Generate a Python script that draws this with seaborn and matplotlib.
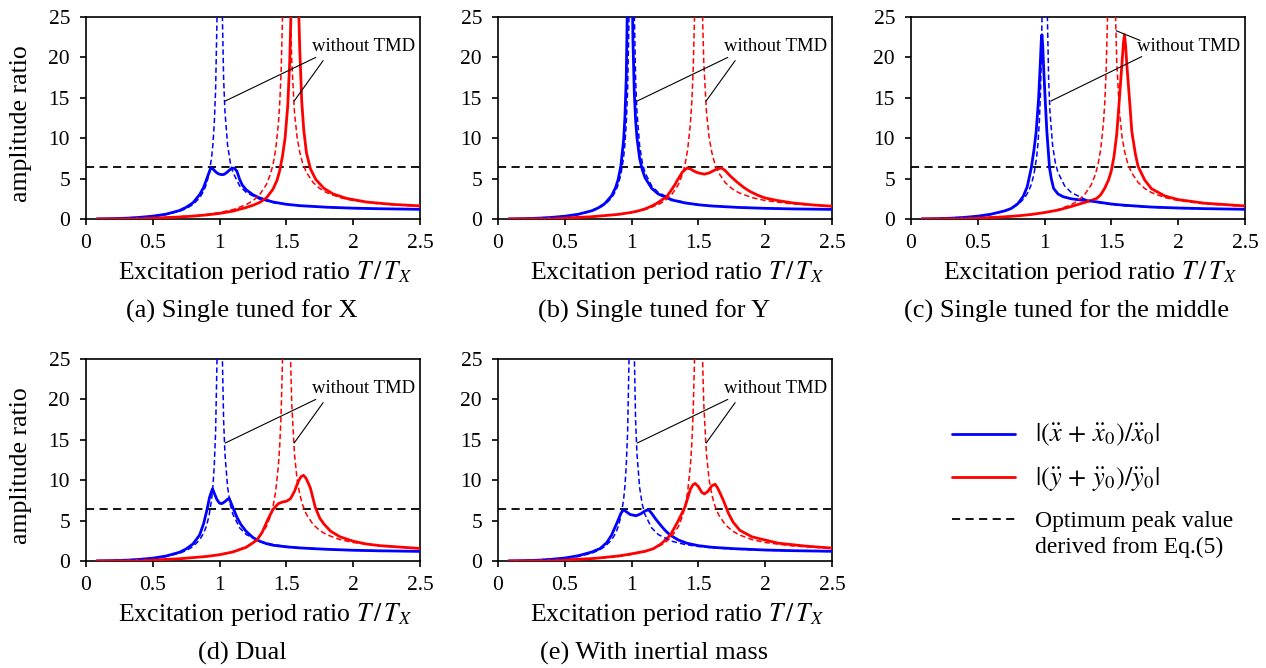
import matplotlib
matplotlib.use("Agg")
import matplotlib.pyplot as plt
from matplotlib.lines import Line2D
from matplotlib.ticker import FormatStrFormatter
import seaborn as sns

# ---------------------------------------------------------------------------
# Amplitude ratios versus excitation period ratio T/T_X
# ---------------------------------------------------------------------------

# Structure without TMD (shared by every panel)
free_x_T = [0.08, 0.2, 0.3, 0.4, 0.5, 0.6, 0.7, 0.75, 0.8, 0.85, 0.88, 0.9, 0.92, 0.94, 0.95,
            0.96, 0.97, 0.98, 0.99, 1.0, 1.01, 1.02, 1.03, 1.04, 1.06, 1.08, 1.1, 1.15, 1.2, 1.3,
            1.4, 1.5, 1.6, 1.8, 2.0, 2.2, 2.5]
free_x_amp = [0.006, 0.042, 0.099, 0.19, 0.33, 0.56, 0.96, 1.29, 1.78, 2.6, 3.43, 4.26, 5.51, 7.59, 9.26,
              11.8, 15.9, 24.3, 40, 50, 40, 25.8, 17.4, 13.3, 9.1, 7.0, 5.76, 4.1, 3.27, 2.45,
              2.04, 1.8, 1.64, 1.45, 1.33, 1.26, 1.19]

free_y_T = [0.08, 0.2, 0.3, 0.4, 0.5, 0.6, 0.7, 0.8, 0.9, 1.0, 1.1, 1.2, 1.25, 1.3, 1.35,
            1.38, 1.4, 1.42, 1.44, 1.45, 1.46, 1.47, 1.48, 1.5, 1.52, 1.53, 1.54, 1.56, 1.58, 1.6,
            1.62, 1.65, 1.7, 1.75, 1.8, 1.9, 2.0, 2.2, 2.5]
free_y_amp = [0.003, 0.018, 0.042, 0.077, 0.125, 0.19, 0.28, 0.4, 0.56, 0.8, 1.16, 1.78, 2.27, 3.02, 4.26,
              5.51, 6.76, 8.63, 11.8, 14.3, 18.0, 24.3, 36.8, 50, 38.3, 25.8, 19.5, 13.3, 10.1, 8.26,
              7.0, 5.76, 4.52, 3.77, 3.27, 2.65, 2.29, 1.87, 1.56]

# (a) Single tuned for X
a_x_T = [0.08, 0.2, 0.3, 0.4, 0.5, 0.6, 0.7, 0.75, 0.8, 0.85, 0.88, 0.9, 0.92, 0.935, 0.95,
         0.97, 0.99, 1.01, 1.03, 1.05, 1.07, 1.09, 1.11, 1.13, 1.15, 1.17, 1.2, 1.25, 1.3, 1.4,
         1.5, 1.6, 1.8, 2.0, 2.2, 2.5]
a_x_amp = [0.007, 0.045, 0.1, 0.2, 0.35, 0.6, 1.05, 1.45, 2.0, 3.0, 3.9, 4.8, 5.7, 6.35, 6.2,
           5.85, 5.6, 5.5, 5.5, 5.7, 6.0, 6.25, 6.3, 5.9, 4.9, 4.2, 3.6, 3.0, 2.6, 2.1,
           1.82, 1.65, 1.46, 1.34, 1.27, 1.2]
a_y_T = [0.08, 0.2, 0.3, 0.4, 0.5, 0.6, 0.7, 0.8, 0.9, 1.0, 1.1, 1.2, 1.25, 1.3, 1.35,
         1.4, 1.43, 1.45, 1.47, 1.49, 1.51, 1.525, 1.535, 1.545, 1.56, 1.575, 1.59, 1.6, 1.615, 1.63,
         1.65, 1.68, 1.72, 1.78, 1.85, 1.95, 2.1, 2.3, 2.5]
a_y_amp = [0.003, 0.017, 0.038, 0.07, 0.115, 0.175, 0.25, 0.355, 0.5, 0.69, 0.98, 1.43, 1.7, 2.05, 2.6,
           3.7, 4.8, 6.0, 7.7, 10.0, 14.0, 19.5, 26, 37, 45, 38, 27, 21, 14.5, 11,
           8.2, 6.2, 4.9, 3.8, 3.1, 2.55, 2.1, 1.8, 1.63]

# (b) Single tuned for Y
b_x_T = [0.08, 0.2, 0.3, 0.4, 0.5, 0.6, 0.7, 0.75, 0.8, 0.85, 0.88, 0.9, 0.92, 0.94, 0.95,
         0.96, 0.97, 0.975, 0.987, 1.0, 1.005, 1.01, 1.02, 1.03, 1.04, 1.06, 1.08, 1.1, 1.15, 1.2,
         1.3, 1.4, 1.5, 1.6, 1.8, 2.0, 2.2, 2.5]
b_x_amp = [0.007, 0.043, 0.102, 0.196, 0.345, 0.586, 1.01, 1.37, 1.92, 2.87, 3.88, 4.93, 6.62, 9.76, 12.6,
           17.5, 28.3, 40, 50, 38.5, 28, 22.2, 15.7, 12.2, 10.1, 7.5, 6.1, 5.13, 3.8, 3.09,
           2.36, 1.99, 1.76, 1.61, 1.43, 1.32, 1.25, 1.19]
b_y_T = [0.08, 0.3, 0.5, 0.7, 0.9, 1.0, 1.05, 1.1, 1.15, 1.19, 1.23, 1.264, 1.29, 1.326, 1.35,
         1.38, 1.414, 1.44, 1.47, 1.5, 1.545, 1.58, 1.61, 1.64, 1.675, 1.7, 1.74, 1.787, 1.84, 1.887,
         1.95, 2.0, 2.087, 2.2, 2.35, 2.5]
b_y_amp = [0.003, 0.04, 0.12, 0.28, 0.57, 0.82, 1.0, 1.25, 1.6, 1.95, 2.4, 2.8, 3.4, 4.3, 5.0,
           5.8, 6.3, 6.2, 5.9, 5.7, 5.55, 5.7, 5.95, 6.2, 6.3, 6.0, 5.3, 4.6, 3.9, 3.4,
           2.9, 2.6, 2.3, 2.0, 1.75, 1.58]

# (c) Single tuned for the middle
c_x_T = [0.08, 0.2, 0.3, 0.4, 0.5, 0.6, 0.7, 0.75, 0.8, 0.84, 0.87, 0.9, 0.92, 0.937, 0.955,
         0.967, 0.975, 0.98, 0.986, 0.992, 1.004, 1.017, 1.037, 1.05, 1.067, 1.1, 1.14, 1.2, 1.27, 1.33,
         1.39, 1.5, 1.6, 1.8, 2.0, 2.2, 2.5]
c_x_amp = [0.007, 0.044, 0.1, 0.2, 0.35, 0.6, 1.0, 1.3, 1.9, 2.8, 4.0, 6.3, 8.5, 10.8, 14.9,
           19.0, 22.0, 22.8, 21.5, 19.0, 14.9, 10.8, 6.3, 5.0, 3.8, 3.1, 2.75, 2.5, 2.35, 2.25,
           2.12, 1.85, 1.7, 1.48, 1.36, 1.28, 1.2]
c_y_T = [0.08, 0.2, 0.3, 0.4, 0.5, 0.6, 0.7, 0.8, 0.9, 1.0, 1.1, 1.2, 1.25, 1.3, 1.35,
         1.39, 1.42, 1.45, 1.48, 1.5, 1.52, 1.54, 1.56, 1.578, 1.59, 1.598, 1.606, 1.616, 1.635, 1.653,
         1.68, 1.7, 1.75, 1.8, 1.9, 2.0, 2.2, 2.5]
c_y_amp = [0.003, 0.018, 0.04, 0.075, 0.12, 0.19, 0.27, 0.39, 0.56, 0.8, 1.1, 1.55, 1.8, 2.05, 2.3,
           2.55, 3.0, 3.8, 4.9, 6.0, 7.8, 10.5, 14.9, 19.0, 21.8, 22.8, 21.5, 19.0, 14.9, 10.8,
           8.0, 6.5, 4.8, 3.75, 2.85, 2.4, 1.95, 1.62]

# (d) Dual
d_x_T = [0.08, 0.2, 0.3, 0.4, 0.5, 0.6, 0.7, 0.75, 0.8, 0.85, 0.88, 0.905, 0.925, 0.947, 0.96,
         0.98, 1.0, 1.017, 1.04, 1.06, 1.072, 1.09, 1.11, 1.13, 1.16, 1.2, 1.25, 1.3, 1.35, 1.4,
         1.5, 1.6, 1.7, 1.8, 2.0, 2.2, 2.5]
d_x_amp = [0.007, 0.045, 0.1, 0.2, 0.35, 0.62, 1.08, 1.5, 2.1, 3.2, 4.6, 6.3, 7.9, 8.95, 8.4,
           7.6, 7.15, 7.1, 7.35, 7.65, 7.75, 7.0, 6.2, 5.4, 4.5, 3.65, 2.9, 2.45, 2.15, 1.95,
           1.75, 1.62, 1.53, 1.45, 1.33, 1.26, 1.19]
d_y_T = [0.08, 0.3, 0.5, 0.7, 0.9, 1.0, 1.1, 1.2, 1.28, 1.32, 1.36, 1.4, 1.44, 1.47, 1.5,
         1.53, 1.56, 1.59, 1.61, 1.628, 1.645, 1.665, 1.68, 1.7, 1.715, 1.75, 1.78, 1.83, 1.9, 2.0,
         2.1, 2.2, 2.5]
d_y_amp = [0.003, 0.04, 0.12, 0.28, 0.56, 0.78, 1.12, 1.7, 2.6, 3.6, 5.1, 6.4, 7.1, 7.3, 7.4,
           7.7, 8.6, 9.9, 10.45, 10.6, 10.3, 9.6, 9.0, 7.7, 6.7, 5.3, 4.6, 3.7, 3.0, 2.45,
           2.1, 1.9, 1.55]

# (e) With inertial mass
e_x_T = [0.08, 0.2, 0.3, 0.4, 0.5, 0.6, 0.7, 0.765, 0.815, 0.85, 0.89, 0.92, 0.94, 0.96, 0.99,
         1.034, 1.07, 1.1, 1.127, 1.15, 1.18, 1.214, 1.25, 1.289, 1.35, 1.414, 1.5, 1.6, 1.76, 2.0,
         2.2, 2.5]
e_x_amp = [0.007, 0.045, 0.1, 0.21, 0.37, 0.65, 1.1, 1.55, 2.3, 3.2, 4.7, 5.9, 6.35, 6.1, 5.75,
           5.6, 5.85, 6.2, 6.35, 5.9, 5.2, 4.5, 3.8, 3.2, 2.6, 2.2, 1.9, 1.7, 1.53, 1.36,
           1.28, 1.2]
e_y_T = [0.08, 0.3, 0.5, 0.7, 0.77, 0.9, 0.97, 1.1, 1.16, 1.22, 1.29, 1.35, 1.4, 1.44, 1.46,
         1.476, 1.5, 1.525, 1.545, 1.57, 1.6, 1.625, 1.645, 1.665, 1.687, 1.725, 1.76, 1.81, 1.9, 1.96,
         2.1, 2.3, 2.5]
e_y_amp = [0.003, 0.04, 0.13, 0.3, 0.4, 0.62, 0.8, 1.2, 1.5, 2.1, 3.2, 5.0, 6.7, 8.9, 9.45,
           9.6, 9.2, 8.5, 8.3, 8.6, 9.3, 9.5, 9.0, 8.3, 7.5, 5.9, 4.8, 3.8, 3.0, 2.75,
           2.2, 1.85, 1.6]

# Optimum peak value derived from Eq.(5)
OPTIMUM_PEAK = 6.38

panel_titles = ["(a) Single tuned for X", "(b) Single tuned for Y",
                "(c) Single tuned for the middle", "(d) Dual", "(e) With inertial mass"]
x_ticks = [0, 0.5, 1, 1.5, 2, 2.5]
y_ticks = [0, 5, 10, 15, 20, 25]
legend_labels = [r"$|(\ddot{x}\,+\,\ddot{x}_0)/\ddot{x}_0|$",
                 r"$|(\ddot{y}\,+\,\ddot{y}_0)/\ddot{y}_0|$",
                 "Optimum peak value"]
legend_cont = "derived from Eq.(5)"
note_text = "without TMD"
x_label = r"Excitation period ratio $T\,/\,T_X$"
y_label = "amplitude ratio"

panels = [
    (a_x_T, a_x_amp, a_y_T, a_y_amp),
    (b_x_T, b_x_amp, b_y_T, b_y_amp),
    (c_x_T, c_x_amp, c_y_T, c_y_amp),
    (d_x_T, d_x_amp, d_y_T, d_y_amp),
    (e_x_T, e_x_amp, e_y_T, e_y_amp),
]

# ---------------------------------------------------------------------------
# Styling
# ---------------------------------------------------------------------------
sns.set_theme(style="ticks")
SERIF = ["Liberation Serif", "DejaVu Serif"]
plt.rcParams["font.family"] = SERIF
plt.rcParams["mathtext.fontset"] = "stix"
plt.rcParams.update({
    "text.color": "black",
    "axes.labelcolor": "black",
    "xtick.color": "black",
    "ytick.color": "black",
    "axes.edgecolor": "black",
    "axes.linewidth": 1.2,
    "legend.labelcolor": "black",
})

BLUE = "#0000ff"
RED = "#ff0000"

W, H = 1266, 668
fig = plt.figure(figsize=(W / 100, H / 100), dpi=100)

# axes boxes in pixels: (left, top, right, bottom)
boxes = [
    (86, 17, 420, 219),
    (498, 17, 832, 219),
    (911, 17, 1245, 219),
    (86, 359, 420, 561),
    (498, 359, 832, 561),
]

# leader lines of the "without TMD" note: (text end, curve end) in data units
leaders_default = [((1.72, 20.0), (1.042, 14.6)), ((1.775, 19.6), (1.558, 14.6))]
leaders_middle = [((1.715, 22.1), (1.536, 23.3)), ((1.727, 20.1), (1.047, 14.6))]

for i, (box, (xT, xA, yT, yA)) in enumerate(zip(boxes, panels)):
    l, t, r, b = box
    ax = fig.add_axes([l / W, 1 - b / H, (r - l) / W, (b - t) / H])

    ax.axhline(OPTIMUM_PEAK, color="black", lw=1.3, dashes=(4.5, 3.0), zorder=1)

    sns.lineplot(x=xT, y=xA, ax=ax, color=BLUE, lw=2.0, estimator=None, sort=False, zorder=3)
    sns.lineplot(x=yT, y=yA, ax=ax, color=RED, lw=2.0, estimator=None, sort=False, zorder=3)
    sns.lineplot(x=free_x_T, y=free_x_amp, ax=ax, color=BLUE, lw=1.1,
                 estimator=None, sort=False, linestyle=(0, (3.5, 2.0)), zorder=4)
    sns.lineplot(x=free_y_T, y=free_y_amp, ax=ax, color=RED, lw=1.1,
                 estimator=None, sort=False, linestyle=(0, (3.5, 2.0)), zorder=4)

    ax.set_xlim(0, 2.5)
    ax.set_ylim(0, 25)
    ax.set_xticks(x_ticks)
    ax.set_yticks(y_ticks)
    ax.xaxis.set_major_formatter(FormatStrFormatter("%g"))
    ax.tick_params(axis="both", direction="out", length=4.5, width=1.2,
                   labelsize=15.5, colors="black")
    ax.tick_params(axis="x", pad=6)
    ax.tick_params(axis="y", pad=7)
    plt.setp(ax.get_xticklabels() + ax.get_yticklabels(), fontfamily=SERIF)
    for s in ax.spines.values():
        s.set_visible(True)
        s.set_color("black")
        s.set_linewidth(1.2)

    ax.set_xlabel(x_label, fontsize=18.5, color="black")
    ax.xaxis.label.set_va("center")
    ax.xaxis.set_label_coords(0.535, -0.267)
    if i in (0, 3):
        ax.set_ylabel(y_label, fontsize=18.5, color="black")
        ax.yaxis.label.set_va("center")
        ax.yaxis.set_label_coords(-0.194, 0.47)
    else:
        ax.set_ylabel("")

    ax.text(0.467, -0.459, panel_titles[i], transform=ax.transAxes,
            ha="center", va="center", fontsize=19, color="black")

    # "without TMD" note with two leader lines
    ax.text(2.08, 21.3, note_text, ha="center", va="center", fontsize=13.5,
            color="black", zorder=6)
    leaders = leaders_middle if i == 2 else leaders_default
    for start, end in leaders:
        ax.annotate("", xy=end, xytext=start,
                    arrowprops=dict(arrowstyle="-", color="black", lw=0.8,
                                    shrinkA=0, shrinkB=0), zorder=6)

# Legend in the free sixth cell
handles = [
    Line2D([], [], color=BLUE, lw=2.0),
    Line2D([], [], color=RED, lw=2.0),
    Line2D([], [], color="black", lw=1.3, dashes=(4.5, 3.0)),
]
leg = fig.legend(handles, legend_labels, loc="upper left",
                 bbox_to_anchor=(952 / W, 1 - 422 / H), frameon=False,
                 fontsize=17, handlelength=2.65, handletextpad=0.85,
                 labelspacing=0.72, borderpad=0, borderaxespad=0)
for txt in leg.get_texts()[:2]:
    txt.set_fontsize(19)
for txt in leg.get_texts():
    txt.set_color("black")

# second line of the last legend entry, aligned under its first line
fig.canvas.draw()
renderer = fig.canvas.get_renderer()
bb = leg.get_texts()[2].get_window_extent(renderer)
fig.text(bb.x0 / W, ((bb.y0 + bb.y1) / 2 - 26) / H, legend_cont,
         ha="left", va="center", fontsize=17, color="black")

fig.savefig("out.png", dpi=100, facecolor="white")
